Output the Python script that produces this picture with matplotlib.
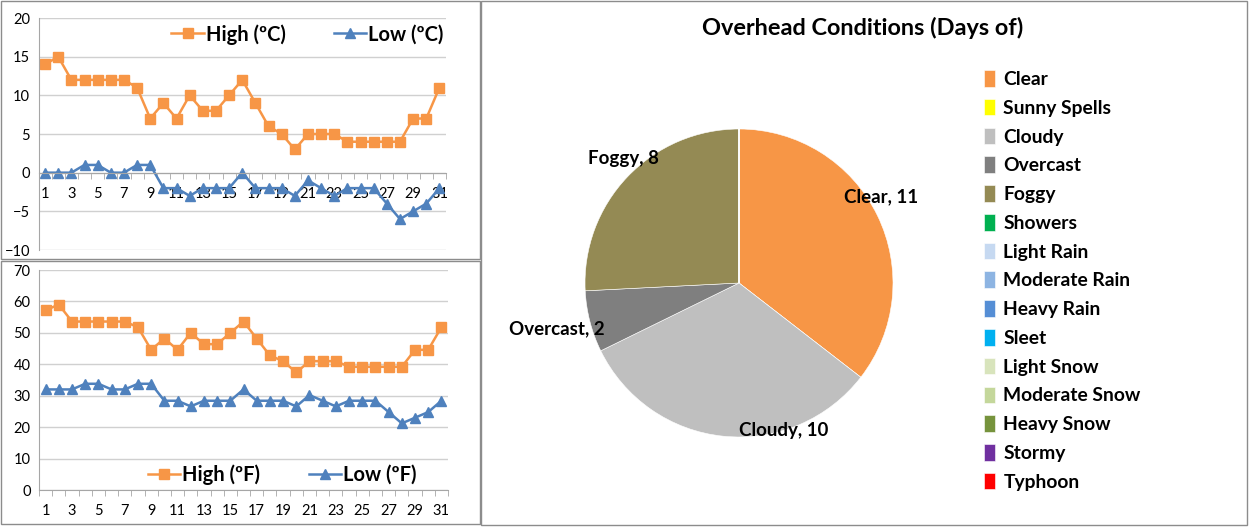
import matplotlib
matplotlib.use('Agg')
import matplotlib.pyplot as plt
from matplotlib.patches import Rectangle
import numpy as np

plt.rcParams['font.family'] = ['Lato', 'DejaVu Sans']

# daily temperatures
days = list(range(1, 32))
high_c = [14, 15, 12, 12, 12, 12, 12, 11, 7, 9, 7, 10, 8, 8, 10, 12,
          9, 6, 5, 3, 5, 5, 5, 4, 4, 4, 4, 4, 7, 7, 11]
low_c = [0, 0, 0, 1, 1, 0, 0, 1, 1, -2, -2, -3, -2, -2, -2, 0,
         -2, -2, -2, -3, -1, -2, -3, -2, -2, -2, -4, -6, -5, -4, -2]
high_f = [57.2, 59, 53.6, 53.6, 53.6, 53.6, 53.6, 51.8, 44.6, 48.2, 44.6, 50, 46.4, 46.4, 50, 53.6,
          48.2, 42.8, 41, 37.4, 41, 41, 41, 39.2, 39.2, 39.2, 39.2, 39.2, 44.6, 44.6, 51.8]
low_f = [32, 32, 32, 33.8, 33.8, 32, 32, 33.8, 33.8, 28.4, 28.4, 26.6, 28.4, 28.4, 28.4, 32,
         28.4, 28.4, 28.4, 26.6, 30.2, 28.4, 26.6, 28.4, 28.4, 28.4, 24.8, 21.2, 23, 24.8, 28.4]

# overhead conditions
conditions = ['Clear', 'Sunny Spells', 'Cloudy', 'Overcast', 'Foggy', 'Showers',
              'Light Rain', 'Moderate Rain', 'Heavy Rain', 'Sleet', 'Light Snow',
              'Moderate Snow', 'Heavy Snow', 'Stormy', 'Typhoon']
condition_days = [11, 0, 10, 2, 8, 0, 0, 0, 0, 0, 0, 0, 0, 0, 0]
condition_colors = ['#F79646', '#FFFF00', '#BFBFBF', '#7F7F7F', '#948A54', '#00B050',
                    '#C6D9F1', '#8DB4E2', '#558ED5', '#00B0F0', '#D8E4BC',
                    '#C4D79B', '#76933C', '#7030A0', '#FF0000']

W, H = 1249, 527
ORANGE = '#F79646'
BLUE = '#4F81BD'
GRID = '#D0D0D0'


def box(l, t, r, b):
    return [l / W, 1 - b / H, (r - l) / W, (b - t) / H]


fig = plt.figure(figsize=(W / 100, H / 100), dpi=100)

# chart frames
for (l, t, r, b) in [(1, 1, 480, 259), (1, 261, 480, 524), (481, 1, 1247, 525)]:
    fig.add_artist(Rectangle((l / W, 1 - b / H), (r - l) / W, (b - t) / H,
                             transform=fig.transFigure, fill=False,
                             edgecolor='#8C8C8C', linewidth=1.0))


def line_chart(ax, high, low, ylim, ystep, unit, legend_xy):
    ax.plot(days, high, color=ORANGE, lw=1.8, marker='s', ms=6.5, label='High (º%s)' % unit)
    ax.plot(days, low, color=BLUE, lw=1.8, marker='^', ms=7, label='Low (º%s)' % unit)
    ax.set_xlim(0.5, 31.5)
    ax.set_ylim(*ylim)
    ax.set_yticks(np.arange(ylim[0], ylim[1] + 1, ystep))
    ax.set_xticks(days[::2])
    ax.set_xticks(np.arange(0.5, 32, 1), minor=True)
    ax.tick_params(axis='x', which='major', length=0, pad=10, labelsize=10.5)
    ax.tick_params(axis='x', which='minor', length=4, color='#A6A6A6')
    ax.tick_params(axis='y', length=0, pad=6, labelsize=10.5)
    ax.yaxis.grid(True, color=GRID, lw=1.0)
    ax.set_axisbelow(True)
    for s in ['top', 'right']:
        ax.spines[s].set_visible(False)
    ax.spines['left'].set_color('#A6A6A6')
    ax.spines['bottom'].set_color('#A6A6A6')
    ax.spines['bottom'].set_position(('data', 0))
    ax.legend(loc='center', bbox_to_anchor=legend_xy, ncol=2, frameon=False,
              prop={'weight': 'bold', 'size': 14.5}, handlelength=1.6, handletextpad=0.1,
              columnspacing=2.4)


ax1 = fig.add_axes(box(38.5, 18, 446, 250))
line_chart(ax1, high_c, low_c, (-10, 20), 5, 'C', (0.66, 0.93))

ax2 = fig.add_axes(box(39, 270, 448, 490))
line_chart(ax2, high_f, low_f, (0, 70), 10, 'F', (0.595, 0.07))

# pie chart
cx, cy, r = 739, 283, 154
ax3 = fig.add_axes(box(cx - r, cy - r, cx + r, cy + r))
wedges, _ = ax3.pie(condition_days, colors=condition_colors, startangle=90,
                    counterclock=False, radius=1,
                    wedgeprops={'edgecolor': 'white', 'linewidth': 0.4})
ax3.set_xlim(-1, 1)
ax3.set_ylim(-1, 1)

label_pos = {'Clear': (0.92, 0.56), 'Cloudy': (0.29, -0.955),
             'Overcast': (-1.18, -0.30), 'Foggy': (-0.75, 0.81)}
for name, val in zip(conditions, condition_days):
    if val > 0:
        x, y = label_pos[name]
        ax3.text(x, y, '%s, %d' % (name, val), ha='center', va='center',
                 fontsize=13.5, fontweight='bold', clip_on=False)

fig.text(863 / W, 1 - 28 / H, 'Overhead Conditions (Days of)', ha='center', va='center',
         fontsize=16.9, fontweight='bold')

fig.legend(wedges, conditions, loc='upper left', bbox_to_anchor=(984 / W, 1 - 70 / H),
           frameon=False, prop={'weight': 'bold', 'size': 13.9},
           handlelength=0.55, handleheight=0.95, handletextpad=0.45, labelspacing=0.56,
           borderpad=0, borderaxespad=0)

fig.savefig('out.png', dpi=100)
